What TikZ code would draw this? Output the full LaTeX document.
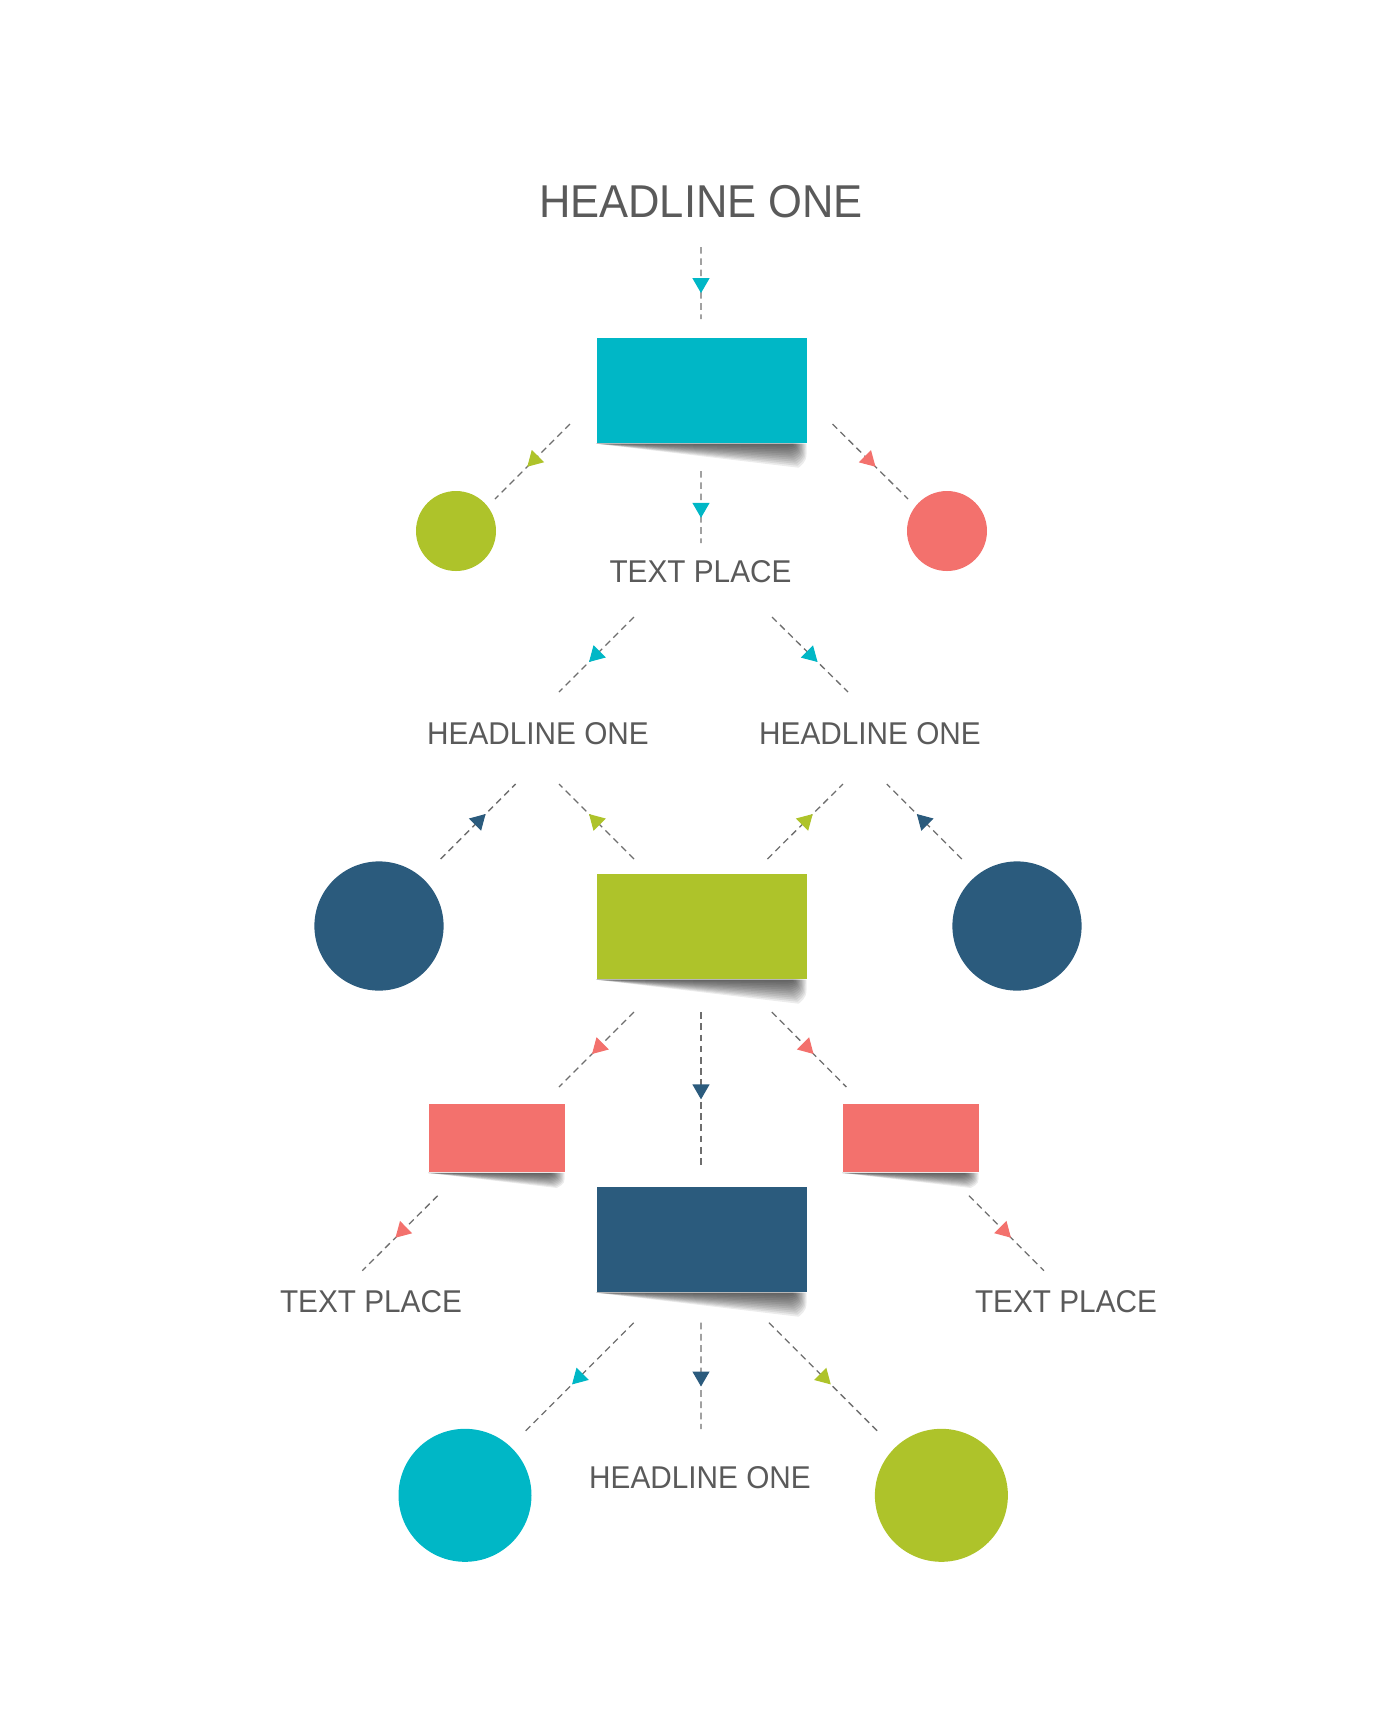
\documentclass[tikz,border=0pt]{standalone}
\usepackage{fontspec}
\usepackage{tikz}
\usetikzlibrary{arrows.meta,decorations.markings}
\setmainfont[FakeStretch=0.945]{Liberation Sans}
\definecolor{tealc}{HTML}{00B7C6}
\definecolor{greenc}{HTML}{AEC32A}
\definecolor{coralc}{HTML}{F3716D}
\definecolor{navyc}{HTML}{2B5B7D}
\definecolor{textc}{HTML}{5A5A5A}
\definecolor{linec}{HTML}{6E6E6E}
\tikzset{
	bigbox/.style={rectangle, fill=#1, inner sep=0pt, minimum width=2.10cm, minimum height=1.05cm},
	smallbox/.style={rectangle, fill=#1, inner sep=0pt, minimum width=1.36cm, minimum height=.685cm},
	disc/.style 2 args={circle, fill=#1, inner sep=0pt, minimum size=#2},
	bigtext/.style={text=textc, inner sep=0pt, font=\fontsize{13.1pt}{15pt}\selectfont},
	smalltext/.style={text=textc, inner sep=0pt, font=\fontsize{8.96pt}{11pt}\selectfont},
	flow/.style 2 args={draw=linec, line width=.37pt, dash pattern=on 1.9pt off 1.3pt,
		postaction={decorate, decoration={markings, mark=at position #2 with {\arrow[#1]{Triangle[length=1.5mm, width=1.7mm]}}}}}
}

\begin{document}
\begin{tikzpicture}
	\useasboundingbox (0,0) rectangle (13.8,-17.25);
	% Nodes
	\node[bigtext] (head1) at (7.01,-2.015) {HEADLINE ONE};
	\node[bigbox=tealc] (box1) at (7.02,-3.905) {};
	\node[disc={greenc}{.80cm}] (circ1) at (4.56,-5.31) {};
	\node[disc={coralc}{.80cm}] (circ2) at (9.47,-5.31) {};
	\node[smalltext] (text1) at (7.005,-5.72) {TEXT PLACE};
	\node[smalltext] (head2) at (5.38,-7.34) {HEADLINE ONE};
	\node[smalltext] (head3) at (8.70,-7.34) {HEADLINE ONE};
	\node[disc={navyc}{1.292cm}] (circ3) at (3.79,-9.26) {};
	\node[bigbox=greenc] (box2) at (7.02,-9.265) {};
	\node[disc={navyc}{1.292cm}] (circ4) at (10.17,-9.26) {};
	\node[smallbox=coralc] (box3) at (4.97,-11.38) {};
	\node[smallbox=coralc] (box4) at (9.11,-11.38) {};
	\node[bigbox=navyc] (box5) at (7.02,-12.395) {};
	\node[smalltext] (text2) at (3.71,-13.015) {TEXT PLACE};
	\node[smalltext] (text3) at (10.66,-13.015) {TEXT PLACE};
	\node[disc={tealc}{1.33cm}] (circ5) at (4.65,-14.953) {};
	\node[disc={greenc}{1.33cm}] (circ6) at (9.414,-14.953) {};
	\node[smalltext] (head4) at (7.00,-14.78) {HEADLINE ONE};
	% Shadows under the boxes
	\foreach \bx/\bh in {box1/.24, box2/.24, box3/.15, box4/.15, box5/.24} {
		\foreach \k [evaluate=\k as \a using .01+.012*\k, evaluate=\k as \h using \bh*(1-\k/12)] in {0,...,11} {
			\fill[black, opacity=.075] (\bx.south west) -- ([xshift=-\a cm]\bx.south east)
				.. controls ([shift={(-\a,-.7*\h)}]\bx.south east) .. ([shift={(-\a-.08,-\h)}]\bx.south east) -- cycle;
		}
	}
	% Connectors
	\draw[flow={tealc}{.64}] ([shift={(0,-.455)}]head1.center) -- ([shift={(-.01,.715)}]box1.center);
	\draw[flow={greenc}{.57}] ([shift={(-1.32,-.335)}]box1.center) -- ([shift={(.39,.32)}]circ1.center);
	\draw[flow={tealc}{.65}] ([shift={(-.01,-.805)}]box1.center) -- ([shift={(.005,.29)}]text1.center);
	\draw[flow={coralc}{.57}] ([shift={(1.305,-.335)}]box1.center) -- ([shift={(-.39,.32)}]circ2.center);
	\draw[flow={tealc}{.6}] ([shift={(-.665,-.45)}]text1.center) -- ([shift={(.21,.42)}]head2.center);
	\draw[flow={tealc}{.6}] ([shift={(.715,-.45)}]text1.center) -- ([shift={(-.22,.42)}]head3.center);
	\draw[flow={navyc}{.6}] ([shift={(.616,.67)}]circ3.center) -- ([shift={(-.224,-.50)}]head2.center);
	\draw[flow={greenc}{.6}] ([shift={(-.68,.675)}]box2.center) -- ([shift={(.21,-.50)}]head2.center);
	\draw[flow={greenc}{.6}] ([shift={(.654,.675)}]box2.center) -- ([shift={(-.27,-.50)}]head3.center);
	\draw[flow={navyc}{.6}] ([shift={(-.552,.67)}]circ4.center) -- ([shift={(.168,-.50)}]head3.center);
	\draw[flow={coralc}{.56}] ([shift={(-.68,-.855)}]box2.center) -- ([shift={(.62,.51)}]box3.center);
	\draw[flow={navyc}{.56}] ([shift={(-.01,-.855)}]box2.center) -- ([shift={(-.01,.715)}]box5.center);
	\draw[flow={coralc}{.56}] ([shift={(.698,-.855)}]box2.center) -- ([shift={(-.646,.51)}]box4.center);
	\draw[flow={coralc}{.56}] ([shift={(-.593,-.577)}]box3.center) -- ([shift={(-.087,.308)}]text2.center);
	\draw[flow={coralc}{.56}] ([shift={(.58,-.577)}]box4.center) -- ([shift={(-.22,.308)}]text3.center);
	\draw[flow={tealc}{.56}] ([shift={(-.683,-.832)}]box5.center) -- ([shift={(.585,.623)}]circ5.center);
	\draw[flow={navyc}{.6}] ([shift={(-.01,-.832)}]box5.center) -- ([shift={(.01,.49)}]head4.center);
	\draw[flow={greenc}{.56}] ([shift={(.67,-.832)}]box5.center) -- ([shift={(-.62,.623)}]circ6.center);
\end{tikzpicture}
\end{document}
